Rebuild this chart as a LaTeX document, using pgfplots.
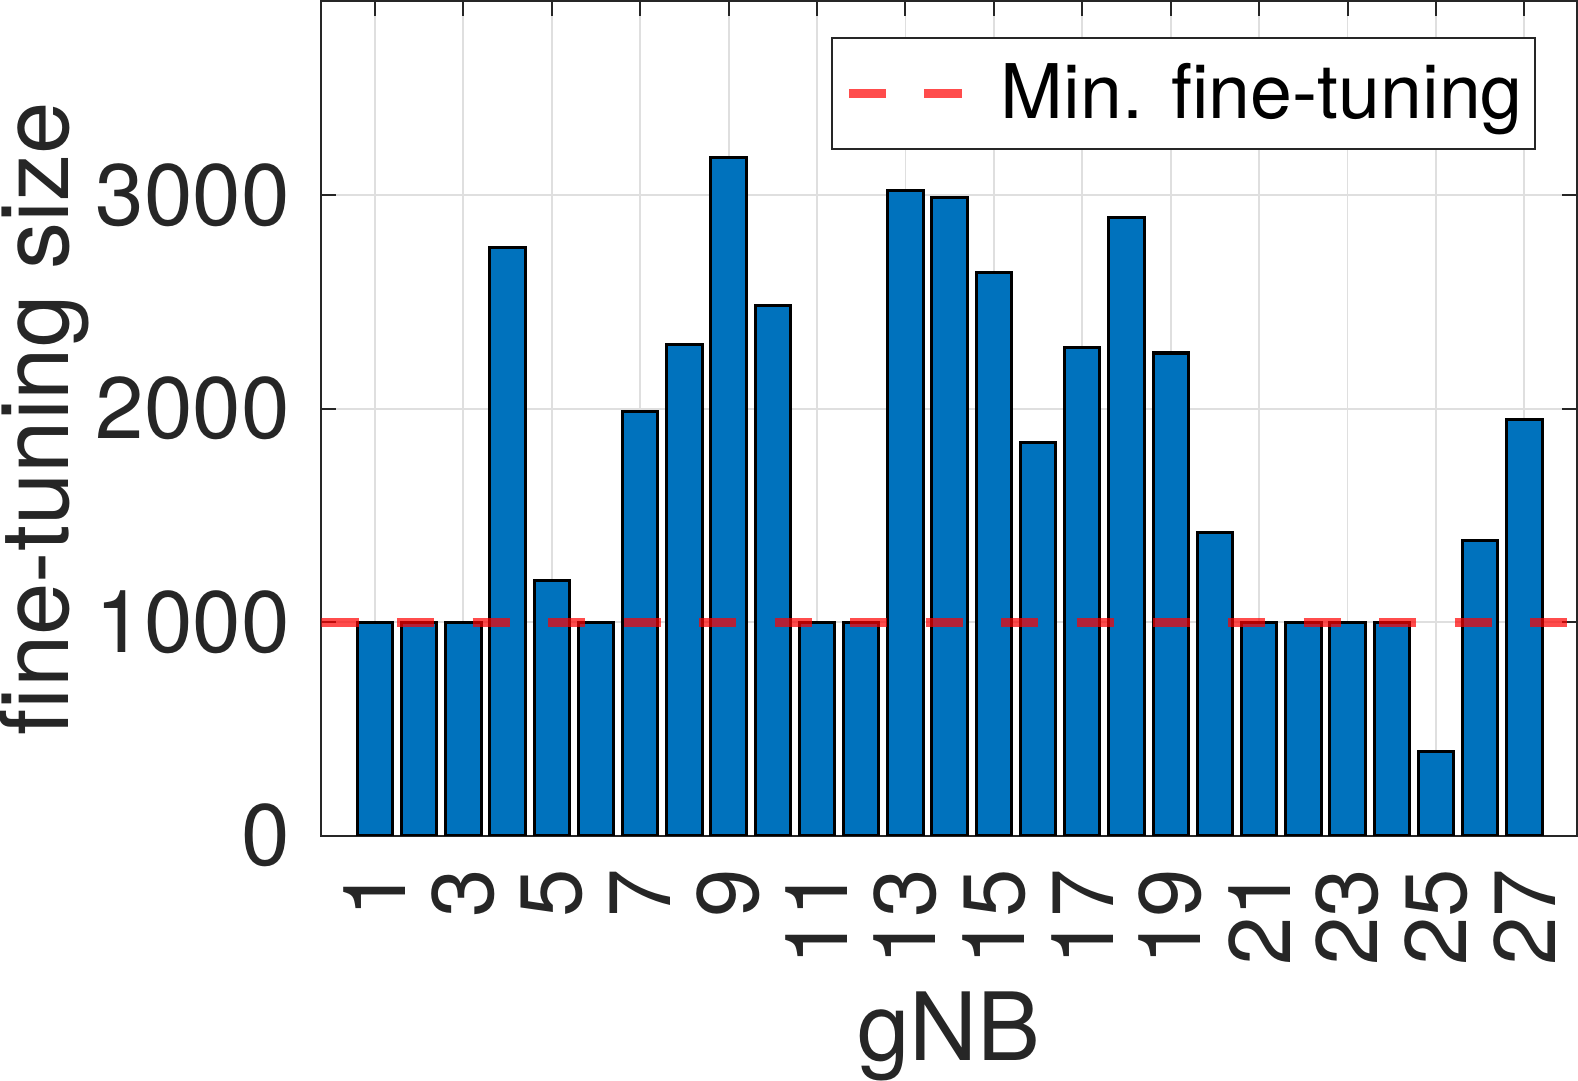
\documentclass[border=0pt]{standalone}
\usepackage{pgfplots}
\pgfplotsset{compat=1.18}
\usepackage{fontspec}
\setmainfont{TeX Gyre Heros}
\definecolor{matblue}{HTML}{0072BD}
\definecolor{axgray}{HTML}{262626}
\definecolor{gridgray}{HTML}{DFDFDF}
\pgfplotsset{layers/mylayers/.define layer set={axis background,axis grid,main,axis ticks,axis lines,axis tick labels,axis descriptions,axis foreground}{}}
\pgfplotsset{redlegend/.style={legend image code/.code={\draw[##1] (0pt,0pt) -- (28.25pt,0pt);}}}
\begin{document}
\begin{tikzpicture}
\begin{axis}[
  set layers=mylayers,
  scale only axis,
  width=313.25pt, height=208.25pt,
  xmin=-0.21, xmax=28.19, ymin=0, ymax=3910,
  xtick={1,3,...,27}, ytick={0,1000,2000,3000},
  scaled y ticks=false,
  tick align=inside, tick pos=both, major tick length=3.75pt,
  axis line style={axgray, line width=0.5pt},
  every tick/.style={axgray, line width=0.5pt},
  grid=major, major grid style={gridgray, line width=0.45pt},
  ticklabel style={font=\fontsize{21.75}{26}\selectfont, text=axgray, inner sep=0pt},
  /pgf/number format/assume math mode=true,
  /pgf/number format/1000 sep={},
  xticklabel style={rotate=90, anchor=east},
  xticklabel shift=8pt, yticklabel shift=7.75pt,
  xlabel={gNB}, ylabel={fine-tuning size},
  label style={font=\fontsize{23.5}{28}\selectfont, text=axgray, inner sep=0pt},
  xlabel style={at={(axis description cs:0.5,-0.2689)}, anchor=base},
  ylabel style={at={(axis description cs:-0.2011,0.5)}, anchor=base},
  legend style={at={(axis description cs:1,1)}, anchor=north east, xshift=-10.25pt, yshift=-9pt,
    draw=axgray, line width=0.5pt, fill=white, font=\fontsize{18.8}{22}\selectfont,
    inner xsep=3pt, inner ysep=6.2pt, nodes={inner sep=0pt}, column sep=8.5pt, cells={anchor=west}},
]
\addplot[ybar, bar width=0.8, fill=matblue, draw=black, line width=0.75pt, forget plot] coordinates {
(1,1000) (2,1000) (3,1000) (4,2754) (5,1194) (6,1000) (7,1986) (8,2303) (9,3175)
(10,2483) (11,1000) (12,1000) (13,3024) (14,2990) (15,2640) (16,1844) (17,2289)
(18,2896) (19,2261) (20,1422) (21,1000) (22,1000) (23,1000) (24,1000) (25,393)
(26,1384) (27,1948)
};
\addplot[red, opacity=0.7, line width=2.3pt, dash pattern=on 9.25pt off 9.6pt, redlegend]
  coordinates {(-0.21,1000) (28,1000)};
\addlegendentry{Min. fine-tuning}
\end{axis}
\end{tikzpicture}
\end{document}
